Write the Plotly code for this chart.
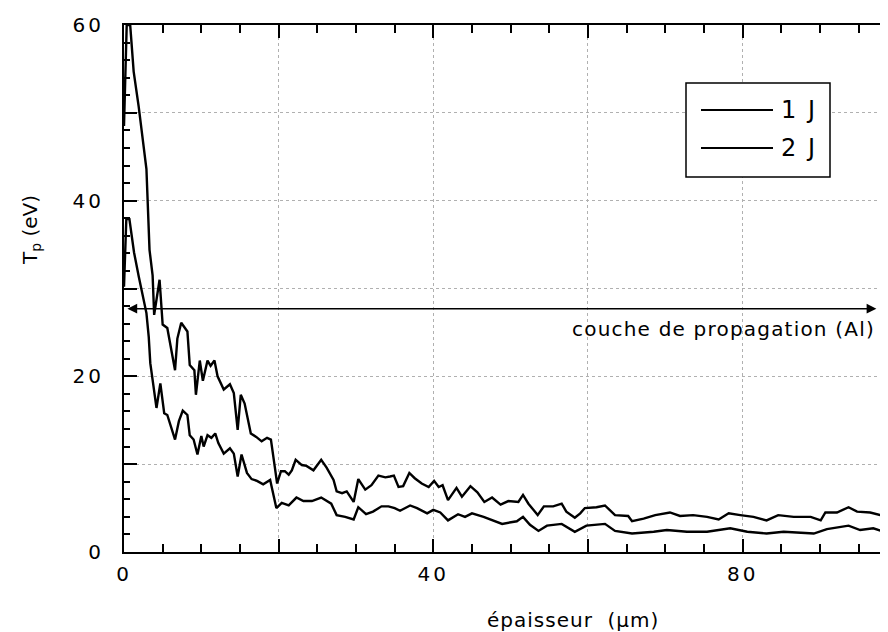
import plotly.graph_objects as go

# ---- data ----
x_2J = [0, 0.35, 0.8, 1.25, 1.9, 2.3, 2.9, 3.3, 3.7, 3.9, 4.6, 5.0, 5.6, 6.6, 6.9, 7.4, 8.2, 8.5,
        9.1, 9.3, 9.8, 10.2, 10.8, 11.2, 11.7, 12.1, 12.9, 13.7, 14.2, 14.7, 15.1, 15.6, 16.4,
        17.1, 17.8, 18.5, 19.0, 19.5, 19.8, 20.3, 20.8, 21.3, 21.7, 22.2, 23.0, 23.6, 24.5,
        25.5, 26.2, 27.1, 27.5, 28.2, 28.8, 29.7, 30.3, 31.2, 32.0, 32.9, 33.8, 34.4, 34.9,
        35.5, 36.1, 36.9, 37.6, 38.5, 39.4, 40.1, 40.7, 41.2, 41.9, 43.0, 43.7, 44.8, 45.7,
        46.6, 47.6, 48.7, 49.7, 51.0, 51.6, 52.3, 53.5, 54.3, 55.5, 56.6, 57.2, 58.3, 59.0,
        59.6, 61.1, 62.2, 63.5, 65.2, 65.7, 67.2, 68.7, 70.6, 71.9, 73.6, 75.4, 76.9, 78.2,
        79.7, 81.4, 83.1, 84.6, 86.6, 88.8, 90.1, 90.7, 92.2, 93.7, 94.8, 96.5, 98.7]
y_2J = [48.5, 60, 60, 54.7, 50.7, 48.1, 43.6, 34.4, 31.5, 27.0, 31.0, 25.9, 25.5, 20.7, 24.3, 26.1,
        25.1, 21.3, 20.7, 17.9, 21.8, 19.5, 21.8, 21.2, 21.8, 20.0, 18.5, 19.1, 18.1, 13.9, 17.9,
        16.9, 13.5, 13.1, 12.6, 13.0, 12.8, 9.7, 7.8, 9.2, 9.2, 8.8, 9.3, 10.5, 9.9, 9.8, 9.3,
        10.5, 9.6, 8.2, 6.9, 6.7, 6.9, 5.7, 8.3, 7.1, 7.6, 8.7, 8.5, 8.6, 8.7, 7.4, 7.5, 9.0,
        8.4, 7.8, 7.4, 8.1, 7.4, 7.6, 5.9, 7.3, 6.3, 7.5, 6.8, 5.7, 6.2, 5.4, 5.8, 5.7, 6.5,
        5.5, 4.2, 5.2, 5.2, 5.5, 4.6, 3.9, 4.4, 5.0, 5.1, 5.3, 4.2, 4.1, 3.5, 3.8, 4.2, 4.5,
        4.1, 4.2, 4.0, 3.7, 4.4, 4.2, 4.0, 3.6, 4.2, 4.0, 4.0, 3.6, 4.5, 4.5, 5.1, 4.6, 4.5, 4.0]

x_1J = [0, 0.3, 0.7, 1.0, 1.3, 1.9, 2.5, 2.9, 3.2, 3.4, 3.7, 4.2, 4.7, 5.2, 5.6, 6.6, 7.1, 7.6,
        8.2, 8.5, 9.0, 9.5, 10.0, 10.3, 10.8, 11.3, 11.8, 12.2, 12.9, 13.7, 14.2, 14.7, 15.2,
        15.9, 16.5, 17.2, 18.0, 18.9, 19.7, 20.4, 21.3, 22.3, 23.2, 24.3, 25.5, 26.8, 27.5,
        28.6, 29.7, 30.3, 31.3, 32.2, 33.3, 34.2, 35.0, 35.7, 37.0, 37.9, 39.2, 40.0, 40.9,
        41.9, 43.2, 44.1, 45.0, 46.5, 48.9, 50.8, 51.6, 52.5, 53.6, 54.7, 56.6, 58.3, 59.8,
        62.2, 63.5, 65.7, 68.5, 70.2, 72.8, 75.4, 78.4, 80.6, 83.1, 85.3, 89.2, 90.9, 93.7,
        95.2, 96.9, 98.7]
y_1J = [30.2, 37.9, 37.9, 36.0, 34.1, 31.4, 29.1, 27.2, 24.5, 21.5, 19.6, 16.4, 19.2, 15.8, 15.6,
        12.8, 14.9, 16.1, 15.6, 13.3, 12.8, 11.1, 13.2, 12.0, 13.3, 13.0, 13.5, 12.4, 11.2, 11.8,
        11.2, 8.6, 11.1, 9.0, 8.3, 8.1, 7.7, 8.2, 5.0, 5.6, 5.3, 6.2, 5.8, 5.8, 6.2, 5.5, 4.2,
        4.0, 3.7, 5.1, 4.3, 4.6, 5.2, 5.2, 5.0, 4.7, 5.3, 5.0, 4.4, 4.8, 4.5, 3.6, 4.3, 4.0,
        4.4, 4.0, 3.2, 3.5, 4.0, 3.1, 2.4, 3.0, 3.2, 2.3, 3.0, 3.2, 2.4, 2.1, 2.3, 2.5, 2.3,
        2.3, 2.7, 2.3, 2.1, 2.3, 2.1, 2.6, 3.0, 2.5, 2.7, 2.2]

x_tickvals = [0, 20, 40, 60, 80]
x_ticklabels = ["0", "", "40", "", "80"]
y_tickvals = [0, 10, 20, 30, 40, 50, 60]
y_ticklabels = ["0", "", "20", "", "40", "", "60"]

FONT = "DejaVu Sans"


def spaced(s, ls):
    return f'<span style="letter-spacing:{ls}px">{s}</span>' if s else ""


fig = go.Figure()
fig.add_trace(go.Scatter(x=x_1J, y=y_1J, mode="lines", name="1 J",
                         line=dict(color="black", width=2.4), showlegend=False))
fig.add_trace(go.Scatter(x=x_2J, y=y_2J, mode="lines", name="2 J",
                         line=dict(color="black", width=2.4), showlegend=False))

axis_common = dict(showline=True, linecolor="black", linewidth=2,
                   ticks="inside", tickcolor="black", tickwidth=1.5,
                   showgrid=True, gridcolor="#b0b0b0", griddash="dot", gridwidth=1,
                   zeroline=False, tickfont=dict(family=FONT, size=20, color="black"))

fig.update_xaxes(range=[0, 98.8], tickmode="array", tickvals=x_tickvals,
                 ticktext=[spaced(t, 3) for t in x_ticklabels],
                 ticklen=13, mirror="allticks", ticklabelstandoff=3,
                 minor=dict(dtick=5, ticklen=8, ticks="inside", tickcolor="black", showgrid=False),
                 **axis_common)
fig.update_yaxes(range=[0, 60], tickmode="array", tickvals=y_tickvals,
                 ticktext=[spaced(t, 3) for t in y_ticklabels],
                 ticklen=13, mirror=False, ticklabelstandoff=14,
                 minor=dict(dtick=2, ticklen=6, ticks="inside", tickcolor="black", showgrid=False),
                 **axis_common)

# page body has an 8px margin: figure is 880x624 placed at (8, 8)
OFF = 8
W, H = 880, 624
L, R, T, B = 124 - OFF, 0, 25 - OFF, 80
pw, ph = W - L - R, H - T - B


def px(xabs):
    return (xabs - OFF - L) / pw


def py(yabs):
    return (H - B - (yabs - OFF)) / ph


# double-headed arrow
fig.add_annotation(x=97.3, y=27.7, ax=0.25, ay=27.7, xref="x", yref="y", axref="x", ayref="y",
                   showarrow=True, arrowhead=2, arrowside="end+start", arrowsize=1.3,
                   arrowwidth=1.5, arrowcolor="black", text="")
fig.add_annotation(x=97.4, y=27.0, xref="x", yref="y", xanchor="right", yanchor="top",
                   showarrow=False, text=spaced("couche de propagation (Al)", 1.2),
                   font=dict(family=FONT, size=20, color="black"))

# axis titles
fig.add_annotation(x=px(573), y=py(620), xref="paper", yref="paper", showarrow=False,
                   text=spaced("épaisseur  (µm)", 1), font=dict(family=FONT, size=20, color="black"),
                   xanchor="center", yanchor="middle")
fig.add_annotation(x=px(31), y=py(230), xref="paper", yref="paper", showarrow=False,
                   text="T<sub>p</sub> (eV)", textangle=-90,
                   font=dict(family=FONT, size=20, color="black"),
                   xanchor="center", yanchor="middle")

# legend box
fig.add_shape(type="rect", xref="paper", yref="paper", x0=px(686), x1=px(830), y0=py(177), y1=py(83),
              line=dict(color="black", width=1.5), fillcolor="white", layer="above")
for name, yy in [("1 J", 110), ("2 J", 148)]:
    fig.add_shape(type="line", xref="paper", yref="paper", x0=px(701), x1=px(773), y0=py(yy), y1=py(yy),
                  line=dict(color="black", width=1.8), layer="above")
    fig.add_annotation(x=px(779), y=py(yy), xref="paper", yref="paper", showarrow=False,
                       text=spaced(name, 2), xanchor="left", yanchor="middle",
                       font=dict(family=FONT, size=24, color="black"))

fig.update_layout(width=W, height=H, margin=dict(l=L, r=R, t=T, b=B, autoexpand=False),
                  paper_bgcolor="white", plot_bgcolor="white", showlegend=False,
                  font=dict(family=FONT, color="black"))

fig.write_html("out.html")
